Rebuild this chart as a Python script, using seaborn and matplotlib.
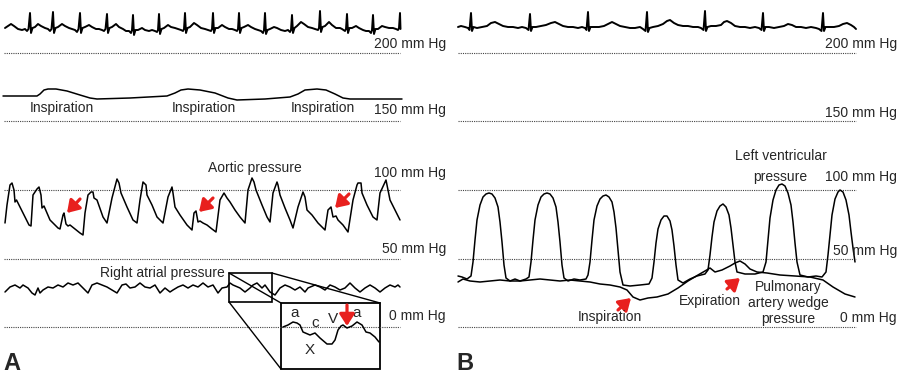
import matplotlib
matplotlib.use("Agg")
import matplotlib.pyplot as plt
from matplotlib.patches import Rectangle
import seaborn as sns

# ---------------- data (pixel-space traces) ----------------
levels_mmhg = [200, 150, 100, 50, 0]
level_labels = ["200 mm Hg", "150 mm Hg", "100 mm Hg", "50 mm Hg", "0 mm Hg"]
label_y_a = [48, 114, 177, 253, 320]
label_y_b = [48, 117, 181, 255, 322]

ecg_a = [(5, 28), (8, 26), (11, 24), (14, 26), (18, 29), (22, 30), (25, 29), (27, 31), (28.5, 29), (30, 13), (31, 33), (32.5, 28), (35, 27), (38, 24), (41, 26), (45, 28),
         (48, 29), (50, 31), (51.5, 29), (53, 12), (54, 33), (55.5, 28), (58, 27), (62, 24), (65, 26), (69, 28), (72, 29),
         (75, 30), (77, 32), (78.5, 29), (80, 13), (81, 33), (82.5, 28), (85, 27), (89, 25), (92, 27), (96, 29), (99, 29),
         (102, 30), (104, 31), (105.5, 29), (107, 14), (108, 33), (109.5, 28), (112, 27), (116, 24), (119, 27), (123, 29), (126, 31),
         (129, 31), (131, 33), (132, 30), (133, 15), (134, 35), (135.5, 30), (138, 30), (142, 28), (145, 30), (149, 31), (152, 30),
         (155, 31), (157, 32), (158, 30), (159, 14), (160, 34), (161.5, 29), (164, 28), (168, 25), (171, 27), (175, 28), (178, 29),
         (181, 30), (183, 31), (184, 29), (185, 13), (186, 33), (187.5, 28), (190, 27), (194, 23), (197, 25), (201, 28), (205, 29),
         (208, 30), (211, 31), (212, 29), (213, 13), (214, 33), (215.5, 28), (218, 28), (222, 25), (225, 27), (229, 29), (232, 29),
         (235, 30), (237, 31), (238, 29), (239, 13), (240, 33), (241.5, 28), (244, 27), (248, 25), (251, 27), (255, 29), (258, 30),
         (261, 31), (263, 33), (264, 30), (265, 13), (266, 34), (267.5, 30), (270, 29), (274, 27), (277, 28), (281, 30), (285, 31),
         (288, 30), (290, 32), (291, 30), (292, 15), (293, 33), (294.5, 28), (297, 26), (301, 22), (304, 24), (308, 27), (312, 28),
         (315, 29), (318, 30), (319, 28), (320, 11), (321, 32), (322.5, 27), (325, 26), (329, 22), (332, 25), (336, 28), (340, 28),
         (342, 29), (345, 31), (346, 29), (347, 14), (348, 33), (349.5, 28), (352, 28), (356, 26), (359, 28), (363, 30), (366, 31),
         (369, 31), (371, 33), (372, 30), (373, 15), (374, 34), (375.5, 29), (378, 29), (382, 26), (385, 27), (389, 28), (393, 28),
         (396, 29), (398, 30), (399, 28), (400, 13), (400.5, 29)]

resp_a = [(3, 96), (37, 96), (40, 94), (44, 90), (48, 89), (56, 89), (67, 91), (80, 95), (90, 98), (97, 99), (130, 98), (167, 96),
          (175, 93), (181, 90), (188, 89), (200, 90), (215, 93), (228, 98), (237, 100), (265, 99), (290, 97), (298, 94),
          (305, 90), (317, 89), (326, 90), (335, 94), (343, 98), (350, 99), (402, 99)]
resp_labels_x = [62, 204, 323]

aortic = [(5, 223), (7, 205), (10, 185), (12, 183), (14, 190), (15, 202), (16.5, 200), (18, 203), (23, 213), (29, 225), (31, 226),
          (33, 195), (37, 189), (39, 187), (41, 195), (42, 208), (44, 206), (50, 220), (58, 228), (60, 229),
          (63, 215), (64, 213), (66, 224), (68, 226), (70, 225), (75, 229), (80, 233), (83, 235),
          (85, 213), (88, 195), (91, 192), (93, 192), (94, 198), (97, 200), (103, 217), (107, 223),
          (112, 198), (117, 179), (119, 183), (121, 193), (127, 207), (133, 220), (137, 223),
          (140, 200), (143, 182), (146, 185), (147, 195), (152, 205), (157, 217), (163, 223),
          (168, 197), (172, 187), (173, 193), (175, 207), (180, 215), (187, 225), (192, 230),
          (194, 213), (196, 211), (198, 222), (200, 221), (203, 223), (207, 225), (212, 229), (216, 232),
          (220, 200), (224, 193), (227, 198), (230, 202), (235, 210), (240, 217), (245, 223),
          (248, 190), (252, 178), (254, 182), (256, 190), (262, 205), (267, 217), (270, 222),
          (273, 193), (277, 182), (278, 185), (280, 195), (285, 208), (290, 220), (293, 228),
          (298, 207), (303, 192), (305, 197), (307, 210), (312, 215), (318, 223), (325, 230),
          (328, 210), (331, 207), (333, 217), (336, 216), (338, 220), (343, 225), (348, 232),
          (353, 200), (357, 185), (358, 183), (361, 183), (362, 193), (367, 205), (373, 217), (377, 220),
          (380, 193), (386, 180), (387, 185), (390, 200), (395, 210), (400, 220)]
aortic_arrows = [((80, 199), (67, 213)), ((213, 198), (199, 212)), ((349, 194), (335, 208))]

right_atrial = [(5, 292), (10, 287), (15, 285), (20, 288), (23, 285), (28, 288), (32, 293), (35, 295), (38, 288), (40, 293),
                (43, 290), (48, 287), (53, 288), (58, 285), (63, 287), (68, 283), (73, 285), (78, 283), (83, 288), (88, 293),
                (92, 285), (97, 283), (102, 285), (107, 287), (112, 290), (117, 293), (122, 285), (126, 284), (130, 288),
                (135, 287), (140, 283), (145, 287), (150, 288), (155, 285), (160, 293), (165, 288), (170, 292), (173, 290),
                (178, 287), (183, 285), (188, 288), (193, 285), (198, 287), (203, 283), (208, 287), (213, 285), (218, 293),
                (222, 288), (227, 287), (230, 283), (233, 285), (240, 288), (245, 292), (250, 288), (253, 285), (257, 283),
                (262, 288), (265, 285), (270, 292), (275, 295), (280, 288), (285, 285), (290, 287), (295, 290), (300, 287),
                (305, 292), (308, 288), (315, 285), (320, 287), (325, 290), (330, 285), (335, 287), (340, 290), (345, 288),
                (350, 283), (355, 288), (360, 292), (365, 288), (370, 285), (375, 288), (380, 292), (385, 288), (390, 285),
                (395, 287), (398, 285), (400, 287)]

inset_trace = [(283, 327), (288, 325), (293, 322), (297, 323), (300, 325), (303, 332), (310, 335), (315, 333), (320, 338),
               (327, 344), (332, 344), (335, 340), (338, 330), (341, 326), (343, 325), (347, 328), (352, 326), (357, 322),
               (362, 325), (366, 332), (370, 333), (375, 337), (379, 342)]
inset_letters = [("a", 295, 317), ("c", 315, 327), ("V", 333, 323), ("a", 357, 317), ("X", 310, 354)]

ecg_b = [(458, 27), (461, 26), (465, 27), (468, 28), (469.5, 30), (471, 13), (472, 31), (473.5, 27), (477, 28), (482, 27), (487, 26),
         (491, 23), (495, 22), (499, 24), (503, 26), (508, 27), (513, 27), (518, 28), (522, 27), (526, 28), (528.5, 30), (530, 14),
         (531, 31), (532.5, 27), (536, 27), (541, 26), (546, 25), (551, 23), (555, 22), (559, 24), (563, 26), (568, 27), (573, 27),
         (578, 28), (582, 27), (585, 28), (586.5, 30), (588, 12), (589, 31), (590.5, 27), (594, 27), (599, 27), (604, 26), (608, 24),
         (612, 22), (616, 24), (620, 26), (625, 27), (630, 28), (635, 28), (640, 27), (643, 29), (645.5, 31), (647, 12), (648, 32),
         (649.5, 28), (653, 27), (658, 26), (663, 24), (667, 21), (670, 20), (674, 23), (678, 25), (683, 26), (688, 26), (693, 27),
         (698, 27), (701, 28), (703.5, 30), (705, 11), (706, 31), (707.5, 27), (711, 26), (716, 26), (721, 25), (724, 22), (727, 21),
         (731, 23), (735, 26), (740, 27), (745, 27), (750, 28), (755, 27), (759, 28), (761.5, 30), (763, 13), (764, 31), (765.5, 27),
         (769, 27), (774, 28), (779, 27), (784, 26), (788, 24), (792, 25), (796, 27), (801, 27), (806, 28), (811, 27), (816, 28),
         (819, 29), (821.5, 31), (823, 13), (824, 31), (825.5, 27), (829, 27), (834, 27), (839, 26), (843, 24), (847, 23), (851, 25),
         (854, 27), (856, 29)]

lv_pressure = [(458, 276), (462, 277), (467, 279), (471, 276),
               (473, 262), (475, 240), (477, 220), (480, 205), (483, 197), (486, 194), (489, 193), (492, 194), (495, 198),
               (498, 207), (500, 222), (502, 242), (504, 265), (506, 278), (510, 281), (515, 279), (520, 281), (526, 279), (529, 277),
               (531, 262), (533, 240), (535, 220), (538, 205), (541, 197), (544, 194), (547, 193), (550, 194), (553, 198),
               (556, 207), (558, 222), (560, 242), (562, 265), (564, 278), (568, 281), (574, 279), (580, 280), (586, 279), (588, 275),
               (590, 262), (592, 240), (594, 220), (597, 206), (600, 199), (603, 196), (606, 195), (609, 197), (612, 202),
               (614, 212), (616, 228), (618, 250), (620, 272), (623, 285), (630, 286), (640, 285), (649, 284), (652, 278),
               (654, 262), (656, 243), (658, 229), (661, 220), (664, 216), (667, 216), (670, 221), (672, 230), (674, 246),
               (676, 265), (678, 280), (683, 283), (690, 279), (697, 276), (705, 274), (708, 270),
               (710, 255), (712, 237), (714, 222), (717, 211), (720, 206), (723, 204), (726, 207), (729, 215), (731, 228),
               (733, 245), (735, 262), (737, 272), (745, 274), (755, 274), (763, 272), (766, 262),
               (768, 240), (770, 218), (773, 200), (776, 190), (779, 185), (782, 184), (785, 186), (788, 193), (791, 205),
               (793, 222), (795, 243), (797, 262), (800, 275), (808, 277), (816, 276), (822, 277), (826, 272),
               (828, 255), (830, 235), (832, 215), (835, 199), (838, 192), (840, 190), (843, 192), (846, 200), (849, 215),
               (851, 232), (853, 248), (855, 262)]

pawp = [(458, 282), (463, 279), (470, 281), (480, 282), (490, 281), (500, 280), (510, 281), (520, 281), (530, 280), (540, 279),
        (550, 280), (560, 281), (570, 280), (580, 281), (590, 282), (600, 284), (610, 285), (620, 287), (627, 290), (633, 297),
        (640, 300), (648, 298), (657, 297), (668, 294), (678, 288), (688, 281), (698, 275), (705, 271), (710, 268), (715, 272),
        (722, 270), (730, 266), (735, 263), (740, 261), (745, 264), (750, 269), (757, 272), (767, 273), (780, 275), (795, 276),
        (810, 277), (823, 280), (833, 287), (845, 294), (855, 297)]
b_arrows = [((618, 310), (631, 298)), ((727, 289), (740, 278))]

# ---------------- drawing ----------------
sns.set_style("white")
plt.rcParams["font.family"] = ["Liberation Sans", "DejaVu Sans"]
FS = 10
RED = "#e8201e"

fig = plt.figure(figsize=(9.04, 3.83), dpi=100)
ax = fig.add_axes([0, 0, 1, 1])
ax.set_xlim(0, 904)
ax.set_ylim(383, 0)
ax.axis("off")


def mmhg_to_px(v):
    return 327 - 1.37 * v


def trace(points, lw=1.0, color="black"):
    xs = [p[0] for p in points]
    ys = [p[1] for p in points]
    sns.lineplot(x=xs, y=ys, sort=False, estimator=None, ax=ax, color=color, lw=lw)


def red_arrow(tail, head):
    ax.annotate("", xy=head, xytext=tail,
                arrowprops=dict(arrowstyle="-|>,head_length=0.7,head_width=0.45", color=RED,
                                lw=2.3, shrinkA=0, shrinkB=0, mutation_scale=10))


# dotted reference lines and labels
for lvl, lab, ya, yb in zip(levels_mmhg, level_labels, label_y_a, label_y_b):
    y = mmhg_to_px(lvl)
    ax.plot([4, 400], [y, y], color="#444444", lw=0.8, ls=(0, (1, 1)))
    ax.plot([458, 856], [y, y], color="#444444", lw=0.8, ls=(0, (1, 1)))
    ax.text(446, ya, lab, ha="right", va="baseline", fontsize=FS)
    ax.text(897, yb, lab, ha="right", va="baseline", fontsize=FS)

# Panel A
trace(ecg_a, lw=1.4)
trace(resp_a, lw=1.1)
for x in resp_labels_x:
    ax.text(x, 112, "Inspiration", ha="center", va="baseline", fontsize=FS)
trace(aortic, lw=1.1)
ax.text(255, 172, "Aortic pressure", ha="center", va="baseline", fontsize=FS)
for tail, head in aortic_arrows:
    red_arrow(tail, head)
trace(right_atrial, lw=1.1)
ax.text(162, 277, "Right atrial pressure", ha="center", va="baseline", fontsize=FS)

# magnifier
ax.add_patch(Rectangle((229, 273), 43, 29, fill=False, ec="black", lw=1.2))
ax.plot([229, 281], [273, 303], color="black", lw=1.0)
ax.plot([272, 380], [273, 303], color="black", lw=1.0)
ax.plot([229, 281], [302, 369], color="black", lw=1.0)
ax.add_patch(Rectangle((281, 303), 99, 66, fill=False, ec="black", lw=1.3))
trace(inset_trace, lw=1.1)
for t, x, y in inset_letters:
    ax.text(x, y, t, ha="center", va="baseline", fontsize=FS + 1)
red_arrow((347, 305), (347, 326))

ax.text(3, 370, "A", ha="left", va="baseline", fontsize=17, fontweight="bold")

# Panel B
trace(ecg_b, lw=1.4)
trace(pawp, lw=1.1)
trace(lv_pressure, lw=1.1)
for tail, head in b_arrows:
    red_arrow(tail, head)
ax.text(781, 160, "Left ventricular", ha="center", va="baseline", fontsize=FS)
ax.text(780, 181, "pressure", ha="center", va="baseline", fontsize=FS)
ax.text(610, 321, "Inspiration", ha="center", va="baseline", fontsize=FS)
ax.text(710, 305, "Expiration", ha="center", va="baseline", fontsize=FS)
ax.text(788, 291, "Pulmonary", ha="center", va="baseline", fontsize=FS)
ax.text(788, 307, "artery wedge", ha="center", va="baseline", fontsize=FS)
ax.text(788, 323, "pressure", ha="center", va="baseline", fontsize=FS)
ax.text(456, 370, "B", ha="left", va="baseline", fontsize=17, fontweight="bold")

fig.savefig("out.png", dpi=100)
